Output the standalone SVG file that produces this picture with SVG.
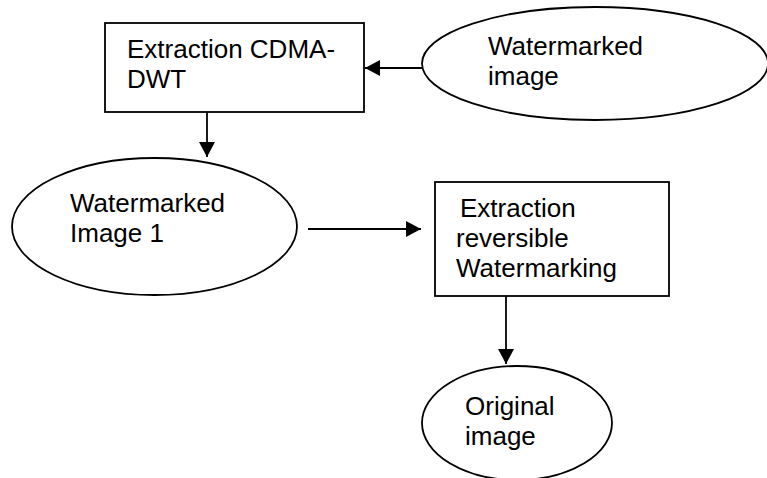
<svg xmlns="http://www.w3.org/2000/svg" width="767" height="478" viewBox="0 0 767 478">
<style>
.s{fill:#fff;stroke:#000;stroke-width:1.8}
.t{font-family:"Liberation Sans",Arial,sans-serif;font-size:26px;fill:#000}
.c{stroke:#000;stroke-width:1.8;fill:none}
</style>
<defs>
<marker id="ah" markerUnits="userSpaceOnUse" markerWidth="16" markerHeight="16" refX="15" refY="8" orient="auto">
<path d="M0,0 L15,8 L0,16 Z" fill="#000"/>
</marker>
</defs>
<rect width="767" height="478" fill="#fff"/>
<g id="box1">
<rect class="s" x="105" y="23" width="259" height="89"/>
<text class="t" x="127" y="58">Extraction CDMA-</text>
<text class="t" x="127" y="88">DWT</text>
</g>
<g id="wm-image">
<ellipse class="s" cx="595" cy="63.5" rx="173" ry="56.5"/>
<text class="t" x="488" y="55">Watermarked</text>
<text class="t" x="488" y="85">image</text>
</g>
<g id="wm-image1">
<ellipse class="s" cx="154.5" cy="226.5" rx="142.5" ry="68.5"/>
<text class="t" x="70" y="212">Watermarked</text>
<text class="t" x="70" y="242">Image 1</text>
</g>
<g id="box2">
<rect class="s" x="435" y="182" width="234" height="114"/>
<text class="t" x="460" y="217">Extraction</text>
<text class="t" x="456" y="247">reversible</text>
<text class="t" x="456" y="277">Watermarking</text>
</g>
<g id="original">
<ellipse class="s" cx="517" cy="423" rx="95" ry="57"/>
<text class="t" x="465" y="415">Original</text>
<text class="t" x="465" y="445">image</text>
</g>
<g id="connectors">
<line class="c" x1="422" y1="68" x2="365" y2="68" marker-end="url(#ah)"/>
<line class="c" x1="207" y1="112" x2="207" y2="157" marker-end="url(#ah)"/>
<line class="c" x1="308" y1="229" x2="421" y2="229" marker-end="url(#ah)"/>
<line class="c" x1="506" y1="296" x2="506" y2="364" marker-end="url(#ah)"/>
</g>
</svg>
